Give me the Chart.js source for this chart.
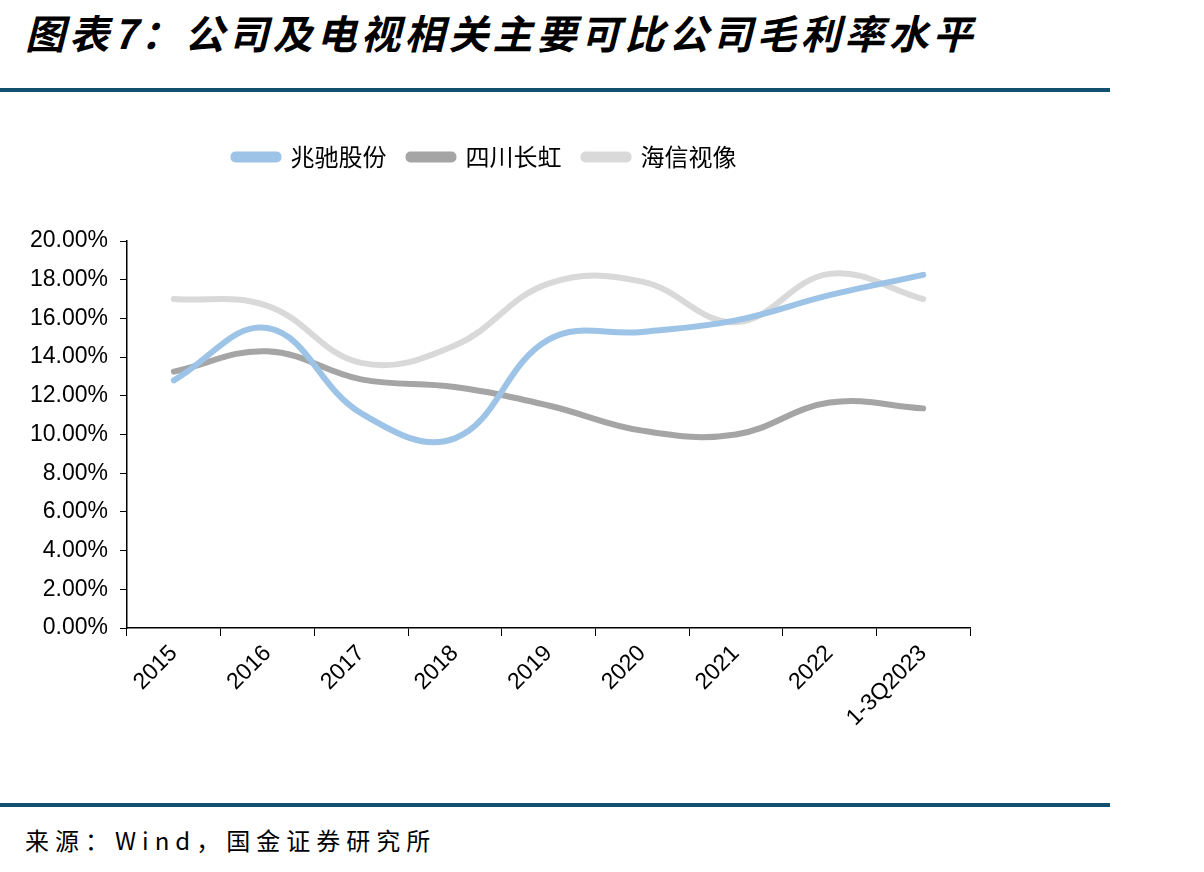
<!DOCTYPE html>
<html>
<head>
<meta charset="utf-8">
<script src="https://cdn.jsdelivr.net/npm/chart.js@4.4.0/dist/chart.umd.min.js"></script>
<style>
  body { margin: 0; background: #fff; width: 1204px; height: 872px; position: relative; overflow: hidden; }
  .title { position: absolute; left: 25px; top: 3px; font-family: "Noto Sans CJK SC"; font-size: 40px; font-weight: bold; font-style: italic; color: #000; letter-spacing: 4px; }
  .rule { position: absolute; left: 0; width: 1110px; height: 4px; background: #134f6e; }
  .source { position: absolute; left: 25px; top: 822px; font-family: "Noto Sans CJK SC"; font-size: 24px; color: #000; letter-spacing: 6px; }
  #wrap { position: absolute; left: 0; top: 115px; width: 1204px; height: 675px; }
</style>
</head>
<body>
<div class="title">图表7：公司及电视相关主要可比公司毛利率水平</div>
<div class="rule" style="top:88px"></div>
<div id="wrap"><canvas id="chart"></canvas></div>
<div class="rule" style="top:803px"></div>
<div class="source">来源：Wind，国金证券研究所</div>

<script>
// CHART DATA
const years = ["2015", "2016", "2017", "2018", "2019", "2020", "2021", "2022", "1-3Q2023"]
const zhaochi = [12.8, 15.5, 11.1, 9.8, 14.9, 15.3, 15.9, 17.2, 18.25]
const changhong = [13.25, 14.3, 12.85, 12.45, 11.5, 10.2, 10.0, 11.65, 11.35]
const hisense = [17.0, 16.65, 13.7, 14.6, 17.8, 17.9, 15.8, 18.3, 17.0]

const ctx = document.getElementById("chart").getContext("2d")

function series(label, data, color) {
  return {
    label: label,
    data: data,
    borderColor: color,
    backgroundColor: color,
    borderWidth: 6,
    pointRadius: 0,
    tension: 0.4,
    fill: false,
    borderCapStyle: "round",
  }
}

// push the plot down under the legend
const legendGap = {
  id: "legendGap",
  beforeInit(chart) {
    const legend = chart.legend
    if (!legend) return
    const fit = legend.fit
    legend.fit = function () {
      fit.call(this)
      this.height += 62
    }
  },
}

new Chart(ctx, {
  type: "line",
  data: {
    labels: years,
    datasets: [
      series("兆驰股份", zhaochi, "#9dc3e6"),
      series("四川长虹", changhong, "#a5a5a5"),
      series("海信视像", hisense, "#d9d9d9"),
    ],
  },
  options: {
    responsive: true,
    maintainAspectRatio: false,
    animation: false,
    layout: { padding: { left: 0, right: 234, top: 8, bottom: 0 } },
    plugins: {
      tooltip: { enabled: false },
      legend: {
        position: "top",
        align: "center",
        labels: {
          boxWidth: 45,
          boxHeight: 5,
          useBorderRadius: true,
          borderRadius: 2,
          padding: 22,
          color: "#000",
          font: { family: "Noto Sans CJK SC", size: 24 },
        },
      },
    },
    scales: {
      y: {
        min: 0,
        max: 20,
        afterFit: (scale) => { scale.width = 127 },
        ticks: {
          stepSize: 2,
          color: "#000",
          padding: 12,
          font: { family: "Liberation Sans", size: 23 },
          callback: (v) => v.toFixed(2) + "%",
        },
        grid: { drawOnChartArea: false, drawTicks: true, tickLength: 7, color: "#000" },
        border: { color: "#000", width: 1.5 },
      },
      x: {
        offset: true,
        afterFit: (scale) => { scale.height = 162 },
        ticks: {
          color: "#000",
          minRotation: 45,
          maxRotation: 45,
          padding: 4,
          font: { family: "Liberation Sans", size: 23 },
        },
        grid: { offset: true, drawOnChartArea: false, drawTicks: true, tickLength: 8, color: "#000" },
        border: { color: "#000", width: 1.5 },
      },
    },
  },
  plugins: [legendGap],
})
</script>
</body>
</html>
